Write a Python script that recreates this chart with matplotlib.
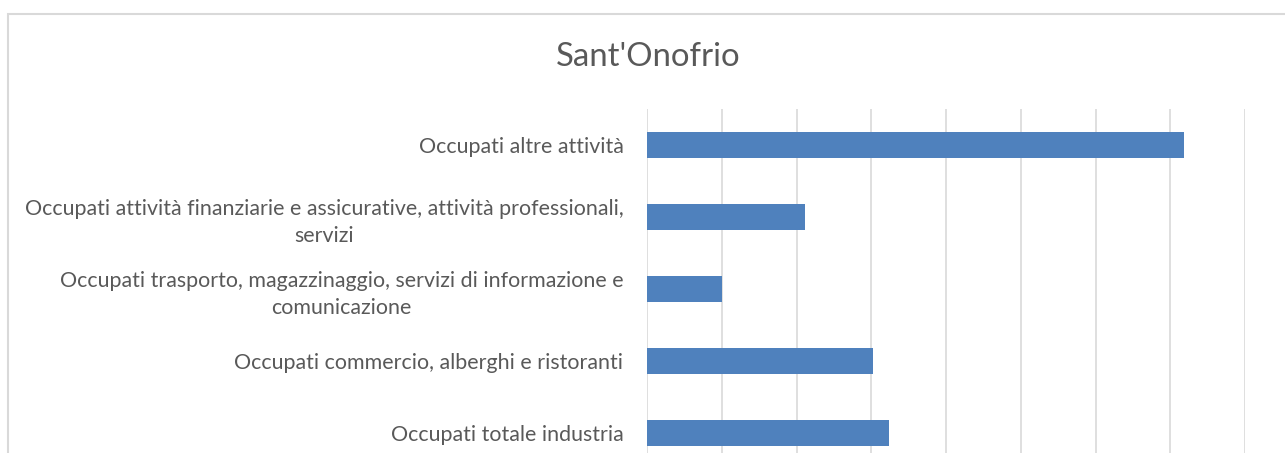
import matplotlib
matplotlib.use("Agg")
import matplotlib.pyplot as plt
from matplotlib.patches import Rectangle

title = "Sant'Onofrio"
categories = [
    "Occupati totale industria",
    "Occupati commercio, alberghi e ristoranti",
    "Occupati trasporto, magazzinaggio, servizi di informazione e\ncomunicazione",
    "Occupati attività finanziarie e assicurative, attività professionali,\nservizi",
    "Occupati altre attività",
]
values = [162, 151, 50, 106, 359]
xticks = [0, 50, 100, 150, 200, 250, 300, 350, 400]

plt.rcParams['font.family'] = ['Lato', 'DejaVu Sans']
W, H = 1285, 453
fig = plt.figure(figsize=(W / 100, H / 100), dpi=100)

# chart border (partially cropped)
fig.patches.append(Rectangle((8 / W, -0.1), (W + 10) / W, 1.1 - 14 / H,
                             transform=fig.transFigure, fill=False,
                             edgecolor='#d9d9d9', linewidth=1.5))

left, right = 647 / W, 1245 / W
top, bottom = 1 - 109 / H, 1 - 469 / H
ax = fig.add_axes([left, bottom, right - left, top - bottom])

y = list(range(len(categories)))
ax.barh(y, values, height=0.36, color='#4f81bd', zorder=3)
ax.set_xlim(0, 400)
ax.set_ylim(-0.5, len(categories) - 0.5)
ax.set_xticks(xticks)
ax.set_xticklabels([])
ax.grid(axis='x', color='#d9d9d9', linewidth=1.2, zorder=0)
ax.set_yticks(y)
ax.set_yticklabels(categories, fontsize=15.4, color='#595959', ma='center',
                   linespacing=1.42)
ax.tick_params(axis='y', length=0, pad=17)
ax.tick_params(axis='x', length=0)
for s in ax.spines.values():
    s.set_visible(False)

fig.text(648 / W, 1 - 57 / H, title, ha='center', va='center',
         fontsize=23.7, color='#595959')

fig.savefig('out.png', dpi=100)
